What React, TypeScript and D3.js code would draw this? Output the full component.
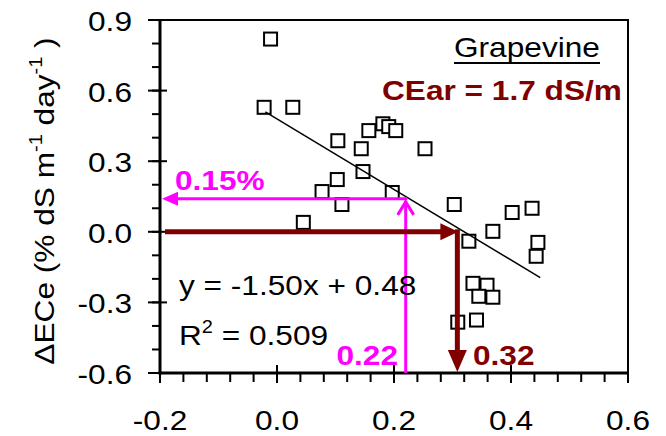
import React, { useEffect, useRef } from "react";
import * as d3 from "d3";

const xVals = [-0.011, -0.022, 0.027, 0.104, 0.144, 0.157, 0.181, 0.191, 0.203, 0.253, 0.147, 0.103, 0.077, 0.197, 0.111, 0.045, 0.303, 0.328, 0.369, 0.402, 0.436, 0.446, 0.443, 0.335, 0.359, 0.345, 0.369, 0.309, 0.341];
const yVals = [0.819, 0.529, 0.529, 0.387, 0.353, 0.43, 0.459, 0.447, 0.43, 0.353, 0.256, 0.222, 0.171, 0.167, 0.116, 0.04, 0.116, -0.04, 0.002, 0.082, 0.1, -0.045, -0.104, -0.219, -0.227, -0.274, -0.278, -0.384, -0.375];

const xTicks = [-0.2, 0, 0.2, 0.4, 0.6];
const yTicks = [-0.6, -0.3, 0, 0.3, 0.6, 0.9];

// regression
const slope = -1.5;
const intercept = 0.48;
const fitRange = [-0.02, 0.45];

// read-off guides
const magentaX = 0.22;
const magentaY = 0.14;
const redX = 0.31;
const redY = 0;

const MAGENTA = "#ff00ff";
const DARKRED = "#800000";
const FONT = "'Liberation Sans', Arial, sans-serif";
const FS = 28.5;
const SX = 1.11;

const App: React.FC = () => {
  const svgRef = useRef<SVGSVGElement | null>(null);

  useEffect(() => {
    const svg = d3.select(svgRef.current);
    svg.selectAll("*").remove();

    const x = d3.scaleLinear().domain([-0.2, 0.6]).range([160, 628]);
    const y = d3.scaleLinear().domain([-0.6, 0.9]).range([373, 20]);

    const addText = (px: number, py: number, str: string, anchor = "start", weight = "normal", color = "#000") =>
      svg.append("text")
        .attr("transform", `translate(${px},${py}) scale(${SX},1)`)
        .attr("text-anchor", anchor)
        .style("font-family", FONT)
        .style("font-size", `${FS}px`)
        .style("font-weight", weight)
        .attr("fill", color)
        .text(str);

    // frame
    svg.append("rect")
      .attr("x", x(-0.2)).attr("y", y(0.9))
      .attr("width", x(0.6) - x(-0.2)).attr("height", y(-0.6) - y(0.9))
      .attr("fill", "none").attr("stroke", "#000").attr("stroke-width", 2);
    svg.append("line").attr("x1", x(-0.2)).attr("x2", x(-0.2)).attr("y1", y(0.9)).attr("y2", y(-0.6) + 1.5)
      .attr("stroke", "#000").attr("stroke-width", 3);
    svg.append("line").attr("x1", x(-0.2) - 1.5).attr("x2", x(0.6) + 1).attr("y1", y(-0.6)).attr("y2", y(-0.6))
      .attr("stroke", "#000").attr("stroke-width", 3);

    // y ticks
    const yMinor = d3.range(-6, 10).map(i => i / 10);
    svg.append("g").selectAll("line").data(yMinor).join("line")
      .attr("x1", x(-0.2) - 8).attr("x2", x(-0.2))
      .attr("y1", d => y(d)).attr("y2", d => y(d))
      .attr("stroke", "#000").attr("stroke-width", 2);
    svg.append("g").selectAll("line").data(yTicks).join("line")
      .attr("x1", x(-0.2) - 12).attr("x2", x(-0.2) + 7)
      .attr("y1", d => y(d)).attr("y2", d => y(d))
      .attr("stroke", "#000").attr("stroke-width", 2);
    yTicks.forEach(t => addText(132, y(t) + 11, t.toFixed(1), "end"));

    // x ticks
    const xMinor = d3.range(0, 21).map(i => -0.2 + i * 0.04);
    svg.append("g").selectAll("line").data(xMinor).join("line")
      .attr("x1", d => x(d)).attr("x2", d => x(d))
      .attr("y1", y(-0.6)).attr("y2", y(-0.6) + 9)
      .attr("stroke", "#000").attr("stroke-width", 2);
    svg.append("g").selectAll("line").data(xTicks).join("line")
      .attr("x1", d => x(d)).attr("x2", d => x(d))
      .attr("y1", y(-0.6) - 8).attr("y2", y(-0.6) + 10)
      .attr("stroke", "#000").attr("stroke-width", 2);
    xTicks.forEach(t => addText(x(t), 430, t.toFixed(1), "middle"));

    // y axis title
    const title = svg.append("text")
      .attr("transform", `translate(54,201) rotate(-90) scale(${SX},1)`)
      .attr("text-anchor", "middle")
      .style("font-family", FONT)
      .style("font-size", `${FS}px`);
    title.append("tspan").text("ΔECe (% dS m");
    title.append("tspan").attr("dy", -12).style("font-size", "18px").text("-1");
    title.append("tspan").attr("dy", 12).text(" day");
    title.append("tspan").attr("dy", -12).style("font-size", "18px").text("-1");
    title.append("tspan").attr("dy", 12).text(" )");

    // points
    const pts = xVals.map((v, i) => [v, yVals[i]]);
    svg.append("g").selectAll("rect").data(pts).join("rect")
      .attr("x", d => x(d[0]) - 6.5).attr("y", d => y(d[1]) - 6.5)
      .attr("width", 13).attr("height", 13)
      .attr("fill", "#fff").attr("stroke", "#000").attr("stroke-width", 2);

    // fit line
    svg.append("path")
      .datum(fitRange)
      .attr("d", d3.line<number>().x(d => x(d)).y(d => y(slope * d + intercept)))
      .attr("stroke", "#000").attr("stroke-width", 1.5).attr("fill", "none");

    // magenta guide
    const mx = x(magentaX), my = y(magentaY);
    svg.append("line").attr("x1", mx).attr("x2", mx).attr("y1", y(-0.6)).attr("y2", my + 2)
      .attr("stroke", MAGENTA).attr("stroke-width", 3);
    svg.append("path")
      .attr("d", `M${mx - 8},${my + 16}L${mx},${my + 3}L${mx + 8},${my + 16}`)
      .attr("stroke", MAGENTA).attr("stroke-width", 3).attr("fill", "none");
    svg.append("line").attr("x1", mx + 1.5).attr("x2", x(-0.2) + 15).attr("y1", my).attr("y2", my)
      .attr("stroke", MAGENTA).attr("stroke-width", 3);
    svg.append("path")
      .attr("d", `M${x(-0.2) + 2},${my}L${x(-0.2) + 18},${my - 7}L${x(-0.2) + 18},${my + 7}Z`)
      .attr("fill", MAGENTA);

    // dark red guide
    const rx = x(redX), ry = y(redY);
    svg.append("line").attr("x1", x(-0.2) + 5).attr("x2", rx - 16).attr("y1", ry).attr("y2", ry)
      .attr("stroke", DARKRED).attr("stroke-width", 5);
    svg.append("path")
      .attr("d", `M${rx},${ry}L${rx - 18},${ry - 8.5}L${rx - 18},${ry + 8.5}Z`)
      .attr("fill", DARKRED);
    svg.append("line").attr("x1", rx - 1).attr("x2", rx - 1).attr("y1", ry - 2.5).attr("y2", y(-0.6) - 20)
      .attr("stroke", DARKRED).attr("stroke-width", 5);
    svg.append("path")
      .attr("d", `M${rx - 1},${y(-0.6) - 1}L${rx - 10.5},${y(-0.6) - 23}L${rx + 8.5},${y(-0.6) - 23}Z`)
      .attr("fill", DARKRED);

    // annotations
    addText(454, 57, "Grapevine");
    svg.append("line").attr("x1", 454).attr("x2", 600).attr("y1", 63).attr("y2", 63)
      .attr("stroke", "#000").attr("stroke-width", 2);
    addText(382, 100, "CEar = 1.7 dS/m", "start", "bold", DARKRED);
    addText(175, 190, "0.15%", "start", "bold", MAGENTA);
    addText(179, 295, "y = -1.50x + 0.48");
    const r2 = addText(179, 345, "");
    r2.append("tspan").text("R");
    r2.append("tspan").attr("dy", -12).style("font-size", "18px").text("2");
    r2.append("tspan").attr("dy", 12).text(" = 0.509");
    addText(398, 365, "0.22", "end", "bold", MAGENTA);
    addText(473, 365, "0.32", "start", "bold", DARKRED);
  }, []);

  return (
    <svg
      ref={svgRef}
      width={666}
      height={436}
      style={{ position: "absolute", left: 0, top: 0, background: "#fff" }}
    />
  );
};

export default App;
